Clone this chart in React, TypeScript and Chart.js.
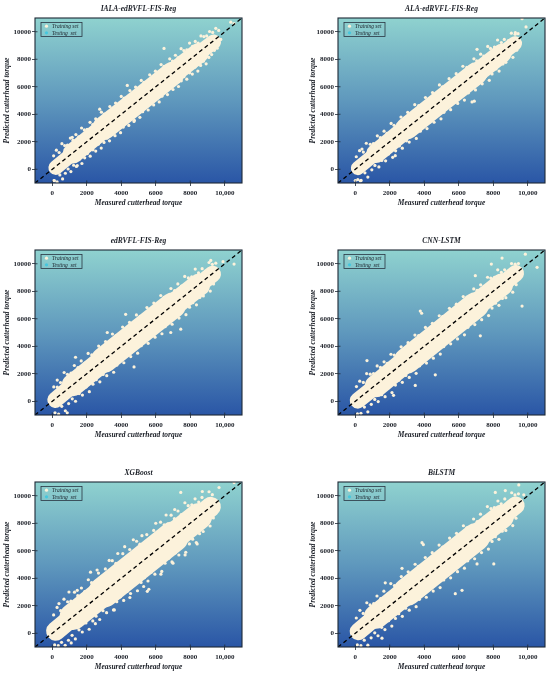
import React, { useEffect, useRef } from 'react';
import { Chart, registerables } from 'chart.js';

Chart.register(...registerables);

type Pt = [number, number];

const modelNames = ['IALA-edRVFL-FIS-Reg', 'ALA-edRVFL-FIS-Reg', 'edRVFL-FIS-Reg', 'CNN-LSTM', 'XGBoost', 'BiLSTM'];
const seriesNames = ['Training set', 'Testing  set'];
const xAxisTitle = 'Measured cutterhead torque';
const yAxisTitle = 'Predicted cutterhead torque';
const xTickValues = [0, 2000, 4000, 6000, 8000, 10000];
const xTickLabels = ['0', '2000', '4000', '6000', '8000', '10,000'];
const yTickValues = [0, 2000, 4000, 6000, 8000, 10000];
const yTickLabels = ['0', '2000', '4000', '6000', '8000', '10000'];
const axisMin = -1000;
const axisMax = 11000;
const identityLine: Pt[] = [[-1000, -1000], [11000, 11000]];

// ---------- IALA-edRVFL-FIS-Reg ----------
const ialaCore: Pt[] = [[200, 120], [1200, 1150], [3000, 3000], [5000, 4980], [7000, 6980], [8500, 8450], [9350, 9250]];
const ialaTrain: Pt[] = [
  [80, 980], [240, 1390], [400, 1220], [560, 1860], [720, 1720], [880, 1760], [1050, 2270], [1200, 2100], [1370, 2520], [1530, 2350],
  [1700, 3000], [1860, 2860], [2020, 2900], [2190, 3410], [2350, 3250], [2520, 3670], [2680, 3500], [2850, 4150], [3010, 4010], [3180, 4060],
  [3340, 4560], [3510, 4410], [3670, 4820], [3840, 4660], [4000, 5300], [4170, 5170], [4330, 5210], [4500, 5720], [4660, 5560], [4830, 5980],
  [4990, 5810], [5160, 6460], [5320, 6320], [5490, 6370], [5650, 6870], [5820, 6720], [5980, 7130], [6150, 6970], [6310, 7610], [6480, 7480],
  [6640, 7520], [6810, 8030], [6970, 7870], [7140, 8290], [7300, 8120], [7470, 8770], [7630, 8630], [7800, 8680], [7960, 9180], [8130, 8930],
  [8290, 9300], [8460, 9180], [8620, 9700], [8790, 9650], [8950, 9700], [9120, 10020], [9300, 9950], [9480, 10250], [9650, 10100],
  [1160, 2320], [2750, 4370], [4350, 6100], [6480, 8790], [9770, 9440], [10350, 10700], [10540, 10600],
  [120, -830], [280, -920], [440, -410], [600, -700], [760, -290], [920, 20], [1080, -170], [1240, 290], [1400, 200], [1560, 710],
  [1720, 420], [1880, 830], [2040, 1140], [2200, 950], [2360, 1410], [2520, 1320], [2680, 1830], [2840, 1540], [3000, 1950], [3160, 2260],
  [3320, 2070], [3480, 2530], [3640, 2440], [3800, 2950], [3960, 2660], [4120, 3070], [4280, 3380], [4440, 3190], [4600, 3650], [4760, 3560],
  [4920, 4070], [5080, 3780], [5240, 4190], [5400, 4500], [5560, 4310], [5720, 4770], [5880, 4680], [6040, 5190], [6200, 4900], [6360, 5310],
  [6520, 5620], [6680, 5430], [6840, 5890], [7000, 5800], [7160, 6310], [7320, 6020], [7480, 6430], [7640, 6740], [7800, 6550], [7960, 7010],
  [8120, 6920], [8280, 7430], [8440, 7140], [8600, 7550], [8760, 7860], [8920, 7670], [9080, 8130], [9240, 8340], [9400, 8650], [9560, 8800],
  [100, -820], [1450, 265], [4740, 3480],
];
const ialaTest: Pt[] = [[1500, 1550], [3500, 3450], [5500, 5600], [7500, 7400]];

// ---------- ALA-edRVFL-FIS-Reg ----------
const alaCore: Pt[] = [[150, 80], [1200, 1150], [3000, 2980], [5000, 4980], [7000, 6960], [8500, 8420], [9250, 9150]];
const alaTrain: Pt[] = [
  [60, 910], [250, 1350], [470, 1250], [640, 1890], [870, 1820], [1050, 1870], [1280, 2430], [1450, 2300], [1670, 2770], [1840, 2620],
  [2080, 3330], [2250, 3200], [2470, 3290], [2650, 3800], [2880, 3730], [3040, 4140], [3270, 4050], [3450, 4700], [3680, 4630], [3840, 4660],
  [4070, 5220], [4250, 5100], [4480, 5580], [4640, 5420], [4880, 6130], [5050, 6000], [5270, 6090], [5440, 6590], [5680, 6530], [5850, 6950],
  [6080, 6860], [6240, 7490], [6470, 7420], [6650, 7470], [6880, 8030], [7040, 7890], [7270, 8370], [7450, 8230], [7680, 8930], [7840, 8790],
  [8070, 8890], [8250, 9400], [8470, 9220], [8640, 9440], [8880, 9360], [9050, 9900], [9270, 9820], [9440, 9860],
  [9670, 10950], [9280, 9930], [7060, 8720], [390, 1470], [9900, 10350],
  [150, -750], [340, -810], [560, -260], [730, -570], [960, -40], [1140, 280], [1370, 170], [1540, 640], [1760, 610], [1930, 1110],
  [2170, 870], [2340, 1340], [2560, 1700], [2730, 1530], [2970, 2070], [3130, 1980], [3360, 2540], [3540, 2240], [3770, 2770], [3930, 3070],
  [4160, 2960], [4340, 3440], [4570, 3420], [4730, 3910], [4970, 3670], [5140, 4140], [5360, 4500], [5530, 4330], [5770, 4870], [5940, 4790],
  [6170, 5350], [6330, 5030], [6560, 5560], [6740, 5880], [6970, 5770], [7130, 6230], [7360, 6210], [7540, 6720], [7770, 6470], [7930, 6930],
  [8160, 7300], [8340, 7140], [8560, 7660], [8730, 7780], [8970, 8350], [9140, 8140], [9360, 8660],
  [6770, 4900], [6900, 4950], [0, -820], [300, -850], [2320, 990],
];
const alaTest: Pt[] = [[1600, 1650], [3600, 3550], [5600, 5650], [7600, 7500]];

// ---------- edRVFL-FIS-Reg ----------
const edCore: Pt[] = [[180, 100], [1200, 1180], [3000, 3000], [5000, 5000], [7000, 6980], [8500, 8450], [9300, 9250]];
const edTrain: Pt[] = [
  [90, 1040], [290, 1540], [480, 1360], [690, 2090], [880, 1960], [1090, 2050], [1280, 2600], [1490, 2440], [1680, 2930], [1890, 2770],
  [2080, 3480], [2290, 3370], [2480, 3440], [2690, 4010], [2880, 3830], [3090, 4340], [3280, 4160], [3490, 4890], [3680, 4760], [3890, 4850],
  [4080, 5400], [4290, 5240], [4480, 5730], [4690, 5570], [4880, 6280], [5090, 6170], [5280, 6240], [5490, 6810], [5680, 6630], [5890, 7140],
  [6080, 6960], [6290, 7690], [6480, 7560], [6690, 7650], [6880, 8200], [7090, 8040], [7280, 8530], [7490, 8370], [7680, 9080], [7890, 8970],
  [8080, 9040], [8290, 9610], [8480, 9330], [8690, 9640], [8880, 9460], [9090, 10090], [9280, 9960], [9480, 10040],
  [10540, 9975], [9190, 10240], [3190, 5000], [1350, 3200], [290, 1030], [4255, 6320], [9900, 10150],
  [160, -840], [370, -930], [550, -370], [760, -690], [950, -170], [1160, 180], [1350, 0], [1560, 560], [1750, 450], [1960, 1040],
  [2150, 700], [2360, 1240], [2550, 1570], [2760, 1410], [2950, 1950], [3160, 1860], [3350, 2430], [3560, 2110], [3750, 2630], [3960, 2980],
  [4150, 2800], [4360, 3360], [4550, 3250], [4760, 3840], [4950, 3500], [5160, 4040], [5350, 4370], [5560, 4210], [5750, 4750], [5960, 4660],
  [6150, 5230], [6360, 4910], [6550, 5430], [6760, 5780], [6950, 5600], [7160, 6160], [7350, 6050], [7560, 6640], [7750, 6300], [7960, 6840],
  [8150, 7170], [8360, 7010], [8550, 7550], [8760, 7660], [8950, 8230], [9160, 8010], [9350, 8530],
  [7450, 5240], [6870, 5000], [870, -840], [4740, 2500],
];
const edTest: Pt[] = [[1700, 1700], [3700, 3650], [5700, 5750], [7700, 7650]];

// ---------- CNN-LSTM ----------
const cnnCore: Pt[] = [[150, 50], [1200, 1100], [3000, 2950], [5000, 4980], [7000, 7000], [8500, 8480], [9300, 9300]];
const cnnTrain: Pt[] = [
  [70, 1070], [260, 1460], [470, 1370], [660, 2010], [870, 1970], [1060, 2010], [1270, 2570], [1460, 2460], [1670, 2870], [1860, 2760],
  [2070, 3420], [2260, 3360], [2470, 3420], [2660, 3960], [2870, 3870], [3060, 4260], [3270, 4170], [3460, 4810], [3670, 4770], [3860, 4810],
  [4070, 5370], [4260, 5260], [4470, 5670], [4660, 5560], [4870, 6220], [5060, 6160], [5270, 6220], [5460, 6760], [5670, 6670], [5860, 7060],
  [6070, 6970], [6260, 7610], [6470, 7570], [6660, 7610], [6870, 8170], [7060, 8060], [7270, 8470], [7460, 8360], [7670, 9020], [7860, 8960],
  [8070, 9020], [8260, 9560], [8470, 9370], [8660, 9560], [8870, 9470], [9060, 10010], [9270, 9970], [9460, 10010],
  [9860, 10700], [8510, 10410], [7890, 9980], [10540, 9740], [6960, 9130], [3770, 6560], [3850, 6400], [680, 2960],
  [130, -920], [330, -880], [530, -420], [730, -770], [930, -220], [1130, 130], [1330, -20], [1530, 480], [1730, 330], [1930, 980],
  [2130, 630], [2330, 1180], [2530, 1530], [2730, 1380], [2930, 1880], [3130, 1730], [3330, 2380], [3530, 2030], [3730, 2580], [3930, 2930],
  [4130, 2780], [4330, 3280], [4530, 3130], [4730, 3780], [4930, 3430], [5130, 3980], [5330, 4330], [5530, 4180], [5730, 4680], [5930, 4530],
  [6130, 5180], [6330, 4830], [6530, 5380], [6730, 5730], [6930, 5580], [7130, 6080], [7330, 5930], [7530, 6580], [7730, 6230], [7930, 6780],
  [8130, 7130], [8330, 6980], [8530, 7480], [8730, 7530], [8930, 8180], [9130, 7930], [9330, 8480],
  [9670, 6920], [4640, 1920], [3480, 1150], [2220, 430], [7250, 4760],
];
const cnnTest: Pt[] = [[1800, 1750], [3800, 3800], [5800, 5700], [7800, 7800]];

// ---------- XGBoost ----------
const xgbCore: Pt[] = [[200, 150], [1200, 1200], [3000, 3000], [5000, 5000], [7000, 7000], [8500, 8500], [9200, 9200]];
const xgbTrain: Pt[] = [
  [80, 1330], [280, 1880], [490, 1640], [680, 2480], [890, 2290], [1080, 2330], [1290, 2990], [1480, 2730], [1690, 3290], [1880, 3030],
  [2090, 3890], [2280, 3680], [2490, 3740], [2680, 4380], [2890, 4140], [3080, 4680], [3290, 4440], [3480, 5280], [3690, 5090], [3880, 5130],
  [4090, 5790], [4280, 5530], [4490, 6090], [4680, 5830], [4890, 6690], [5080, 6480], [5290, 6540], [5480, 7180], [5690, 6940], [5880, 7480],
  [6090, 7240], [6280, 8080], [6490, 7890], [6680, 7930], [6890, 8590], [7080, 8330], [7290, 8890], [7480, 8630], [7690, 9490], [7880, 9280],
  [8090, 9340], [8280, 9780], [8490, 9540], [8680, 9880], [8890, 9640], [9090, 10290], [9280, 10080],
  [10540, 10960], [8700, 10310], [7450, 10240], [2220, 4440], [1450, 3120], [970, 3000], [390, 2160], [9670, 10600],
  [3300, 5300], [4200, 6300], [5200, 7100], [6000, 8000], [6600, 8600], [7100, 9000], [2600, 4600], [3800, 5800], [4700, 6800],
  [140, -850], [350, -900], [540, -660], [750, -880], [940, -510], [1150, -150], [1340, -410], [1550, 250], [1740, 90], [1950, 750],
  [2140, 290], [2350, 900], [2540, 1240], [2750, 1000], [2940, 1640], [3150, 1500], [3340, 2140], [3550, 1700], [3740, 2290], [3950, 2650],
  [4140, 2390], [4350, 3050], [4540, 2890], [4750, 3550], [4940, 3090], [5150, 3700], [5340, 4040], [5550, 3800], [5740, 4440], [5950, 4300],
  [6140, 4940], [6350, 4500], [6540, 5090], [6750, 5450], [6940, 5190], [7150, 5850], [7340, 5690], [7550, 6350], [7740, 5890], [7950, 6500],
  [8140, 6840], [8350, 6600], [8540, 7240], [8750, 7400], [8940, 8040], [9150, 7800], [9340, 8390],
  [5510, 3050], [5600, 3200], [1100, -700],
  [2500, 700], [3600, 1700], [4500, 2600], [5300, 3400], [6300, 4300], [7000, 5100], [7700, 5700], [8400, 6500],
];
const xgbTest: Pt[] = [[1900, 1900], [3900, 3850], [5900, 5950], [7900, 7850]];

// ---------- BiLSTM ----------
const bilCore: Pt[] = [[180, 120], [1200, 1200], [3000, 3000], [5000, 5000], [7000, 7000], [8500, 8480], [9300, 9300]];
const bilTrain: Pt[] = [
  [60, 1110], [270, 1670], [460, 1440], [670, 2220], [860, 2060], [1070, 2150], [1260, 2710], [1470, 2520], [1660, 3060], [1870, 2850],
  [2060, 3610], [2270, 3470], [2460, 3540], [2670, 4120], [2860, 3910], [3070, 4470], [3260, 4240], [3470, 5020], [3660, 4860], [3870, 4950],
  [4060, 5510], [4270, 5320], [4460, 5860], [4670, 5650], [4860, 6410], [5070, 6270], [5260, 6340], [5470, 6920], [5660, 6710], [5870, 7270],
  [6060, 7040], [6270, 7820], [6460, 7660], [6670, 7750], [6860, 8310], [7070, 8120], [7260, 8660], [7470, 8450], [7660, 9210], [7870, 9070],
  [8060, 9140], [8270, 9620], [8460, 9410], [8670, 9770], [8860, 9540], [9070, 10220], [9260, 10060], [9460, 10140],
  [9480, 10790], [8120, 10240], [8700, 10380], [9770, 10070], [3870, 6590], [3950, 6450], [2710, 4720], [1740, 3670],
  [120, -850], [330, -900], [520, -500], [730, -870], [920, -330], [1130, 30], [1320, -180], [1530, 430], [1720, 270], [1930, 910],
  [2120, 520], [2330, 1080], [2520, 1420], [2730, 1230], [2920, 1820], [3130, 1680], [3320, 2300], [3530, 1930], [3720, 2470], [3930, 2830],
  [4120, 2620], [4330, 3230], [4520, 3070], [4730, 3710], [4920, 3320], [5130, 3880], [5320, 4220], [5530, 4030], [5720, 4620], [5930, 4480],
  [6120, 5100], [6330, 4730], [6520, 5270], [6730, 5630], [6920, 5420], [7130, 6030], [7320, 5870], [7530, 6510], [7720, 6120], [7930, 6680],
  [8120, 7020], [8330, 6830], [8520, 7420], [8730, 7480], [8920, 8100], [9130, 7830], [9320, 8370],
  [5800, 2880], [6190, 3120], [8030, 5040], [7060, 5040], [1550, -360],
];
const bilTest: Pt[] = [[2000, 2000], [4000, 3950], [6000, 6050], [8000, 7950]];

// ---------- styles ----------
const SERIF = "'Liberation Serif', 'Times New Roman', serif";
const CREAM = '#fcf2db';
const CYAN = '#45c7de';
const INK = '#1b1f27';
const FRAME = '#1e2835';
const segFactors = [0.62, 0.86, 1, 1, 0.86, 0.64];

const panels = [
  { title: modelNames[0], core: ialaCore, train: ialaTrain, test: ialaTest, coreWidth: 23.5 },
  { title: modelNames[1], core: alaCore, train: alaTrain, test: alaTest, coreWidth: 22.5 },
  { title: modelNames[2], core: edCore, train: edTrain, test: edTest, coreWidth: 26 },
  { title: modelNames[3], core: cnnCore, train: cnnTrain, test: cnnTest, coreWidth: 26 },
  { title: modelNames[4], core: xgbCore, train: xgbTrain, test: xgbTest, coreWidth: 31 },
  { title: modelNames[5], core: bilCore, train: bilTrain, test: bilTest, coreWidth: 28 },
];

const CANVAS_W = 275;
const CANVAS_H = 232;

function toXY(arr: Pt[]) {
  return arr.map(([x, y]) => ({ x, y }));
}

function makeDecor(title: string) {
  return {
    id: 'panelDecor',
    beforeDraw(chart: any) {
      const { ctx, chartArea: a } = chart;
      const g = ctx.createLinearGradient(0, a.top, 0, a.bottom);
      g.addColorStop(0, '#8fd2cf');
      g.addColorStop(0.5, '#5f98bd');
      g.addColorStop(1, '#2a56a6');
      ctx.save();
      ctx.fillStyle = g;
      ctx.fillRect(a.left, a.top, a.right - a.left, a.bottom - a.top);
      ctx.restore();
    },
    afterDraw(chart: any) {
      const { ctx, chartArea: a } = chart;
      const xs = chart.scales.x;
      const ys = chart.scales.y;
      ctx.save();
      ctx.strokeStyle = FRAME;
      ctx.lineWidth = 0.8;
      ctx.beginPath();
      xs.ticks.forEach((t: any) => {
        const px = xs.getPixelForValue(t.value);
        ctx.moveTo(px, a.bottom);
        ctx.lineTo(px, a.bottom - 2.5);
      });
      ys.ticks.forEach((t: any) => {
        const py = ys.getPixelForValue(t.value);
        ctx.moveTo(a.left, py);
        ctx.lineTo(a.left + 2.5, py);
      });
      ctx.stroke();
      ctx.lineWidth = 1.1;
      ctx.strokeRect(a.left, a.top, a.right - a.left, a.bottom - a.top);
      ctx.fillStyle = INK;
      ctx.font = `italic bold 7.5px ${SERIF}`;
      ctx.textAlign = 'center';
      ctx.textBaseline = 'middle';
      ctx.fillText(title, (a.left + a.right) / 2, a.top - 9);
      const lx = a.left + 6;
      const ly = a.top + 4.5;
      ctx.lineWidth = 0.8;
      ctx.strokeStyle = '#2a3542';
      ctx.strokeRect(lx, ly, 41, 14);
      const rows = [ly + 3.7, ly + 10.3];
      const colors = [CREAM, CYAN];
      ctx.font = `italic 5.5px ${SERIF}`;
      ctx.textAlign = 'left';
      seriesNames.forEach((name, i) => {
        ctx.beginPath();
        ctx.fillStyle = colors[i];
        ctx.arc(lx + 5.5, rows[i], 1.6, 0, Math.PI * 2);
        ctx.fill();
        ctx.fillStyle = INK;
        ctx.fillText(name, lx + 11, rows[i] + 0.3);
      });
      ctx.restore();
    },
  };
}

function Panel({ index }: { index: number }) {
  const ref = useRef<HTMLCanvasElement | null>(null);
  const p = panels[index];
  const col = index % 2;
  const row = Math.floor(index / 2);

  useEffect(() => {
    if (!ref.current) return;
    const tickFont = { family: SERIF, size: 7, weight: 'bold' as const };
    const titleFont = { family: SERIF, size: 7.5, weight: 'bold' as const, style: 'italic' as const };
    const chart = new Chart(ref.current, {
      type: 'scatter',
      data: {
        datasets: [
          {
            label: 'identity',
            data: toXY(identityLine),
            showLine: true,
            borderColor: '#000000',
            borderWidth: 1.3,
            borderDash: [4, 3],
            pointRadius: 0,
            clip: 0,
          } as any,
          {
            label: seriesNames[0],
            data: toXY(p.train),
            backgroundColor: CREAM,
            borderWidth: 0,
            pointRadius: 1.6,
          },
          {
            label: seriesNames[0] + ' (dense)',
            data: toXY(p.core),
            showLine: true,
            borderColor: CREAM,
            borderWidth: p.coreWidth,
            borderCapStyle: 'round',
            borderJoinStyle: 'round',
            pointRadius: 0,
            segment: {
              borderWidth: (c: any) => p.coreWidth * segFactors[c.p0DataIndex],
            },
          } as any,
          {
            label: seriesNames[1],
            data: toXY(p.test),
            backgroundColor: CYAN,
            borderWidth: 0,
            pointRadius: 1.6,
          },
        ],
      },
      options: {
        responsive: false,
        animation: false,
        events: [],
        layout: {
          padding: { left: col === 0 ? 2 : 30, right: col === 0 ? 33 : 5, top: 18, bottom: 24 },
        },
        plugins: {
          legend: { display: false },
          tooltip: { enabled: false },
          title: { display: false },
        },
        scales: {
          x: {
            type: 'linear',
            min: axisMin,
            max: axisMax,
            afterBuildTicks: (s: any) => {
              s.ticks = xTickValues.map((v) => ({ value: v }));
            },
            afterFit: (s: any) => {
              s.height = 25;
            },
            ticks: {
              autoSkip: false,
              maxRotation: 0,
              padding: 2.5,
              color: INK,
              font: tickFont,
              callback: (v: any) => xTickLabels[xTickValues.indexOf(Number(v))],
            },
            grid: { display: true, drawOnChartArea: false, drawTicks: true, tickLength: 3, color: FRAME, lineWidth: 0.8 },
            border: { display: false },
            title: { display: true, text: xAxisTitle, color: INK, font: titleFont, padding: { top: 0, bottom: 0.5 } },
          },
          y: {
            type: 'linear',
            min: axisMin,
            max: axisMax,
            afterBuildTicks: (s: any) => {
              s.ticks = yTickValues.map((v) => ({ value: v }));
            },
            afterFit: (s: any) => {
              s.width = 33;
            },
            ticks: {
              autoSkip: false,
              padding: 1,
              color: INK,
              font: tickFont,
              callback: (v: any) => yTickLabels[yTickValues.indexOf(Number(v))],
            },
            grid: { display: true, drawOnChartArea: false, drawTicks: true, tickLength: 3, color: FRAME, lineWidth: 0.8 },
            border: { display: false },
            title: { display: true, text: yAxisTitle, color: INK, font: titleFont, padding: { top: col === 0 ? 0.5 : 3.5, bottom: 0 } },
          },
        },
      } as any,
      plugins: [makeDecor(p.title)],
    });
    return () => chart.destroy();
  }, [index]);

  return (
    <div style={{ position: 'absolute', left: col * CANVAS_W, top: row * CANVAS_H, width: CANVAS_W, height: CANVAS_H }}>
      <canvas ref={ref} width={CANVAS_W} height={CANVAS_H} style={{ width: CANVAS_W, height: CANVAS_H, display: 'block' }} />
    </div>
  );
}

export default function App() {
  return (
    <div style={{ position: 'absolute', left: 0, top: 0, width: 550, height: 677, background: '#ffffff', overflow: 'hidden' }}>
      {panels.map((_, i) => (
        <Panel key={i} index={i} />
      ))}
    </div>
  );
}
